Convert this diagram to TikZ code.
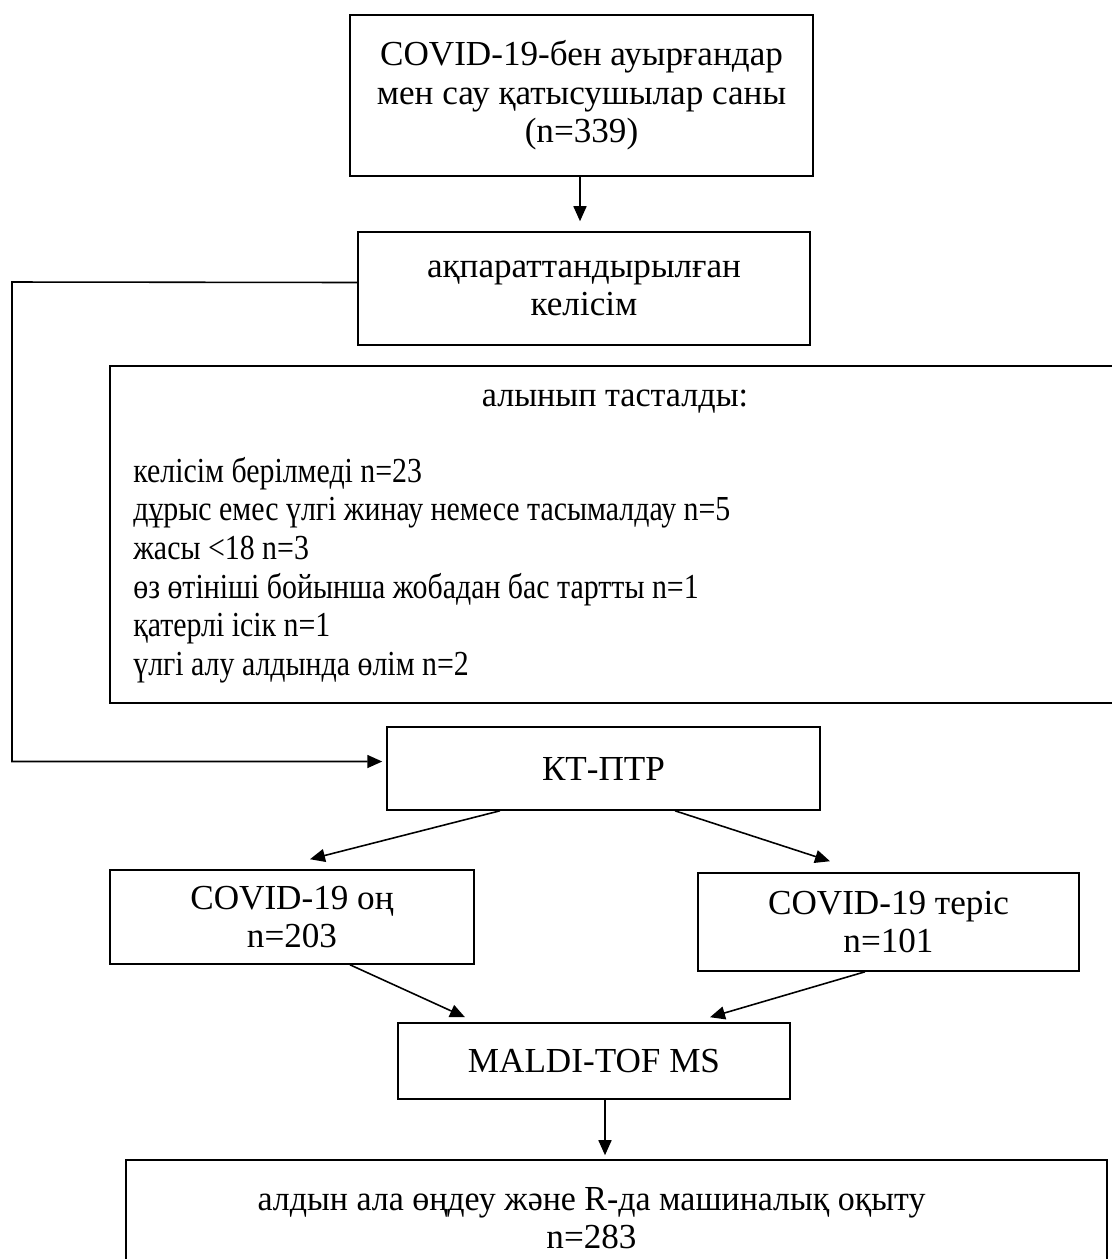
\documentclass[tikz,border=0pt]{standalone}
\usepackage{fontspec}
\setmainfont{Liberation Serif}
\usepackage{tikz}
\usetikzlibrary{shapes,arrows.meta,positioning,calc}
\tikzstyle{box} = [draw, line width=0.9pt, rectangle, align=center, inner sep=2pt]
\tikzstyle{txt} = [inner sep=0pt]
\tikzstyle{arrow} = [line width=0.9pt,-{Triangle[length=0.3cm,width=0.26cm]}]

\begin{document}
\begin{tikzpicture}[x=0.02cm, y=-0.02cm, every node/.style={font=\fontsize{20}{22}\selectfont}]
            \useasboundingbox (0,0) rectangle (1112,1259);

            \node[box, minimum width=9.26cm, minimum height=3.22cm] (count) at (581.5,95.5) {COVID-19-бен ауырғандар\\мен сау қатысушылар саны\\(n=339)};
            \node[box, minimum width=9.04cm, minimum height=2.26cm] (consent) at (584,288.5) {ақпараттандырылған\\келісім};
            \node[box, minimum width=20.1cm, minimum height=6.74cm] (excl) at (612.5,534.5) {};
            \node[txt] (excltitle) at (615,402) {\scalebox{0.97}[1]{алынып тасталды:}};
            \node[txt, anchor=west] (excllist) at (133,571) {\scalebox{0.85}[1]{\begin{tabular}{@{}l@{}}
                келісім берілмеді n=23\\
                дұрыс емес үлгі жинау немесе тасымалдау n=5\\
                жасы <18 n=3\\
                өз өтініші бойынша жобадан бас тартты n=1\\
                қатерлі ісік n=1\\
                үлгі алу алдында өлім n=2
            \end{tabular}}};
            \node[box, minimum width=8.66cm, minimum height=1.66cm] (pcr) at (603.5,768.5) {КТ-ПТР};
            \node[box, minimum width=7.28cm, minimum height=1.88cm] (pos) at (292,917) {COVID-19 оң\\n=203};
            \node[box, minimum width=7.62cm, minimum height=1.96cm] (neg) at (888.5,922) {COVID-19 теріс\\n=101};
            \node[box, minimum width=7.84cm, minimum height=1.52cm] (maldi) at (594,1061) {MALDI-TOF MS};
            \node[box, minimum width=19.62cm, minimum height=2.32cm] (ml) at (616.5,1218) {\scalebox{0.965}[1]{алдын ала өңдеу және R-да машиналық оқыту}\hspace*{1cm}\\n=283\hspace*{1cm}};

            \coordinate (bend) at (12,282);

            % connectors
            \draw[arrow, shorten >=0.2cm] ($(count.south)+(-1.5,0)$) -- ($(consent.north)+(-4,0)$);
            \draw[arrow, shorten >=0.08cm] ($(consent.west)+(0,-6)$) -- (bend) |- ($(pcr.west)+(0,-7)$);
            \draw[arrow] ($(pcr.south)+(-103.5,0)$) -- ($(pos.north)+(18,-10)$);
            \draw[arrow] ($(pcr.south)+(71.5,0)$) -- ($(neg.north)+(-58.5,-11)$);
            \draw[arrow] ($(pos.south)+(58,0)$) -- ($(maldi.north)+(-129,-5)$);
            \draw[arrow] ($(neg.south)+(-23.5,0)$) -- ($(maldi.north)+(116,-5)$);
            \draw[arrow] ($(maldi.south)+(11,0)$) -- ($(ml.north)+(-11.5,-4)$);
        \end{tikzpicture}
\end{document}
